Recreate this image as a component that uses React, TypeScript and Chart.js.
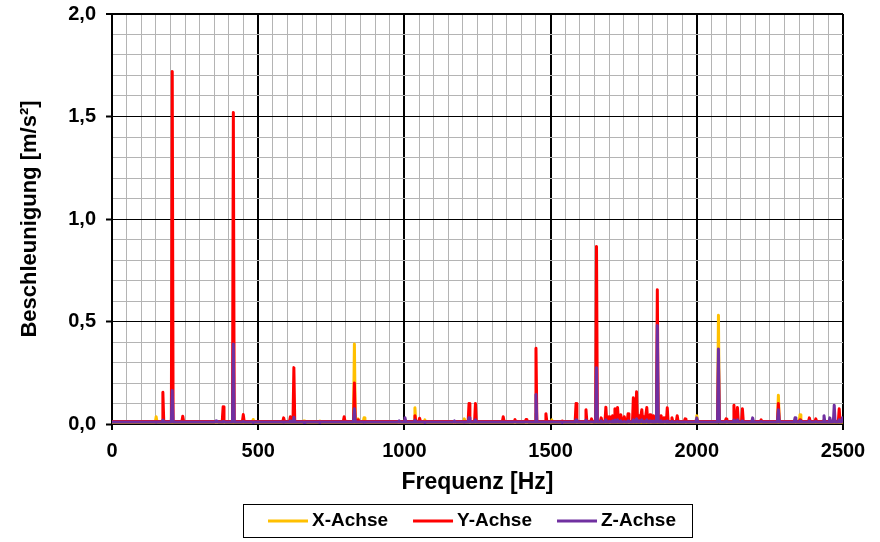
import React, { useEffect, useRef } from "react";
import { Chart, registerables } from "chart.js";

Chart.register(...registerables);

// ---- data ----
const PEAK_FREQ = [
  151, 174, 206, 242, 356, 380, 415, 449, 483, 587, 610, 622, 657, 711, 794, 829, 842, 862, 982,
  1002, 1036, 1052, 1070, 1171, 1205, 1221, 1243, 1338, 1378, 1416, 1450, 1484, 1504, 1540, 1587,
  1621, 1640, 1657, 1673, 1689, 1700, 1712, 1720, 1729, 1740, 1752, 1765, 1783, 1794, 1803, 1812,
  1820, 1829, 1840, 1852, 1865, 1878, 1888, 1899, 1915, 1933, 1960, 2000, 2074, 2100, 2127, 2139,
  2156, 2191, 2220, 2279, 2336, 2353, 2385, 2407, 2435, 2455, 2470, 2487, 2498,
];
const X_PEAK = [
  0.035, 0.012, 0.02, 0.01, 0.006, 0.012, 0.02, 0.012, 0.022, 0.01, 0.012, 0.02, 0.015, 0.015, 0.01, 0.39, 0.025, 0.03, 0.006,
  0.02, 0.079, 0.01, 0.02, 0.006, 0.025, 0.01, 0.01, 0.01, 0.006, 0.006, 0.05, 0.01, 0.02, 0.006, 0.01,
  0.01, 0.006, 0.05, 0.01, 0.01, 0.01, 0.01, 0.01, 0.01, 0.01, 0.01, 0.01, 0.01, 0.01, 0.01, 0.01,
  0.01, 0.01, 0.01, 0.01, 0.3, 0.01, 0.01, 0.01, 0.01, 0.01, 0.01, 0.04, 0.53, 0.01, 0.01, 0.01,
  0.01, 0.008, 0.008, 0.14, 0.02, 0.045, 0.01, 0.01, 0.01, 0.01, 0.01, 0.01, 0.01,
];
const Y_PEAK = [
  0.012, 0.155, 1.72, 0.038, 0.012, 0.084, 1.52, 0.046, 0.01, 0.03, 0.035, 0.275, 0.01, 0.01, 0.035, 0.2, 0.02, 0.012, 0.01,
  0.012, 0.04, 0.028, 0.01, 0.01, 0.012, 0.1, 0.1, 0.035, 0.022, 0.022, 0.37, 0.05, 0.012, 0.015, 0.1,
  0.07, 0.025, 0.866, 0.03, 0.082, 0.035, 0.04, 0.075, 0.08, 0.045, 0.035, 0.05, 0.128, 0.157, 0.04, 0.07,
  0.035, 0.08, 0.045, 0.04, 0.655, 0.04, 0.03, 0.079, 0.03, 0.04, 0.025, 0.02, 0.3, 0.025, 0.092, 0.08,
  0.074, 0.015, 0.02, 0.1, 0.015, 0.02, 0.03, 0.025, 0.02, 0.02, 0.03, 0.074, 0.02,
];
const Z_PEAK = [
  0.008, 0.02, 0.163, 0.01, 0.015, 0.012, 0.39, 0.012, 0.006, 0.008, 0.015, 0.033, 0.006, 0.006, 0.01, 0.074, 0.01, 0.008, 0.015,
  0.03, 0.02, 0.01, 0.006, 0.015, 0.008, 0.03, 0.02, 0.01, 0.01, 0.01, 0.144, 0.01, 0.01, 0.006, 0.02,
  0.02, 0.01, 0.274, 0.015, 0.02, 0.012, 0.015, 0.02, 0.02, 0.015, 0.012, 0.015, 0.02, 0.025, 0.015, 0.02,
  0.012, 0.02, 0.015, 0.015, 0.48, 0.015, 0.012, 0.015, 0.012, 0.012, 0.01, 0.03, 0.366, 0.012, 0.02, 0.02,
  0.015, 0.03, 0.012, 0.07, 0.03, 0.015, 0.015, 0.012, 0.04, 0.03, 0.092, 0.02, 0.03,
];
const X_BASE = 0.008;
const Y_BASE = 0.012;
const Z_BASE = 0.01;
const SERIES_LABELS = ["X-Achse", "Y-Achse", "Z-Achse"];
const SERIES_COLORS = ["#FFC000", "#FF0000", "#7030A0"];
const X_MIN = 0, X_MAX = 2500, X_STEP = 50, X_LABEL_STEP = 500;
const Y_MIN = 0, Y_MAX = 2, Y_STEP = 0.1, Y_LABEL_STEP = 0.5;

const FONT = "'Liberation Sans', Arial, sans-serif";
const GRAY = "#b4b4b4";

function buildSeries(vals: number[], base: number) {
  const pts: { x: number; y: number }[] = [{ x: X_MIN, y: base }];
  PEAK_FREQ.forEach((f, i) => {
    pts.push({ x: f - 3, y: base }, { x: f, y: vals[i] }, { x: f + 3, y: base });
  });
  pts.push({ x: X_MAX, y: base });
  return pts;
}

const isMult = (v: number, step: number) => Math.abs(v / step - Math.round(v / step)) < 1e-6;

const legendPlugin = {
  id: "boxLegend",
  afterDraw(chart: any) {
    const ctx = chart.ctx;
    ctx.save();
    const boxL = 243, boxT = 504, boxW = 449, boxH = 33;
    ctx.strokeStyle = "#000";
    ctx.lineWidth = 1;
    ctx.strokeRect(boxL + 0.5, boxT + 0.5, boxW, boxH);
    ctx.font = `bold 19px ${FONT}`;
    ctx.textBaseline = "middle";
    ctx.textAlign = "left";
    let x = boxL + 25;
    const cy = boxT + boxH / 2 + 0.5;
    chart.data.datasets.forEach((ds: any) => {
      ctx.strokeStyle = ds.borderColor;
      ctx.lineWidth = 3;
      ctx.beginPath();
      ctx.moveTo(x, cy);
      ctx.lineTo(x + 40, cy);
      ctx.stroke();
      ctx.fillStyle = "#000";
      ctx.fillText(ds.label, x + 44, cy);
      x += 44 + ctx.measureText(ds.label).width + 25;
    });
    ctx.restore();
  },
};

export default function App() {
  const ref = useRef<HTMLCanvasElement>(null);
  useEffect(() => {
    if (!ref.current) return;
    const vals = [X_PEAK, Y_PEAK, Z_PEAK];
    const bases = [X_BASE, Y_BASE, Z_BASE];
    const chart = new Chart(ref.current, {
      type: "line",
      data: {
        datasets: SERIES_LABELS.map((label, i) => ({
          label,
          data: buildSeries(vals[i], bases[i]),
          borderColor: SERIES_COLORS[i],
          backgroundColor: SERIES_COLORS[i],
          borderWidth: 3,
          pointRadius: 0,
          tension: 0,
          borderJoinStyle: "round" as const,
          order: 3 - i,
        })),
      },
      options: {
        animation: false,
        responsive: false,
        layout: { padding: { top: 14, right: 37, bottom: 0, left: 0 } },
        plugins: { legend: { display: false }, tooltip: { enabled: false } },
        scales: {
          x: {
            type: "linear",
            min: X_MIN,
            max: X_MAX,
            afterFit: (s: any) => { s.height = 118; s.paddingLeft = 0; s.paddingRight = 0; },
            ticks: {
              stepSize: X_STEP,
              autoSkip: false,
              maxRotation: 0,
              padding: 9,
              color: "#000",
              font: { family: FONT, size: 20, weight: "bold" },
              callback: (v: any) => (isMult(v, X_LABEL_STEP) ? String(v) : ""),
            },
            grid: {
              color: (c: any) => (isMult(c.tick.value, X_LABEL_STEP) ? "#000" : GRAY),
              lineWidth: (c: any) => (isMult(c.tick.value, X_LABEL_STEP) ? 2 : 1),
              tickColor: (c: any) => (isMult(c.tick.value, X_LABEL_STEP) ? "#000" : "rgba(0,0,0,0)"),
              tickLength: 6,
              tickWidth: 2,
            },
            border: { color: "#000", width: 2 },
            title: {
              display: true,
              text: "Frequenz [Hz]",
              color: "#000",
              font: { family: FONT, size: 23, weight: "bold" },
              padding: { top: 0, bottom: 46 },
            },
          },
          y: {
            type: "linear",
            min: Y_MIN,
            max: Y_MAX,
            afterFit: (s: any) => { s.width = 112; s.paddingTop = 0; s.paddingBottom = 0; },
            ticks: {
              stepSize: Y_STEP,
              autoSkip: false,
              padding: 10,
              color: "#000",
              font: { family: FONT, size: 20, weight: "bold" },
              callback: (v: any) => (isMult(v, Y_LABEL_STEP) ? Number(v).toFixed(1).replace(".", ",") : ""),
            },
            grid: {
              color: (c: any) => (isMult(c.tick.value, Y_LABEL_STEP) ? "#000" : GRAY),
              lineWidth: (c: any) => (Math.abs(c.tick.value - Y_MAX) < 1e-6 ? 2 : 1),
              tickColor: (c: any) => (isMult(c.tick.value, Y_LABEL_STEP) ? "#000" : "rgba(0,0,0,0)"),
              tickLength: 6,
              tickWidth: 2,
            },
            border: { color: "#000", width: 2 },
            title: {
              display: true,
              text: "Beschleunigung [m/s²]",
              color: "#000",
              font: { family: FONT, size: 22, weight: "bold" },
              padding: { top: 17, bottom: 0 },
            },
          },
        },
      },
      plugins: [legendPlugin],
    } as any);
    return () => chart.destroy();
  }, []);
  return (
    <div style={{ position: "absolute", left: 0, top: 0, width: 880, height: 542, background: "#fff" }}>
      <canvas ref={ref} width={880} height={542} style={{ display: "block", width: 880, height: 542 }} />
    </div>
  );
}
